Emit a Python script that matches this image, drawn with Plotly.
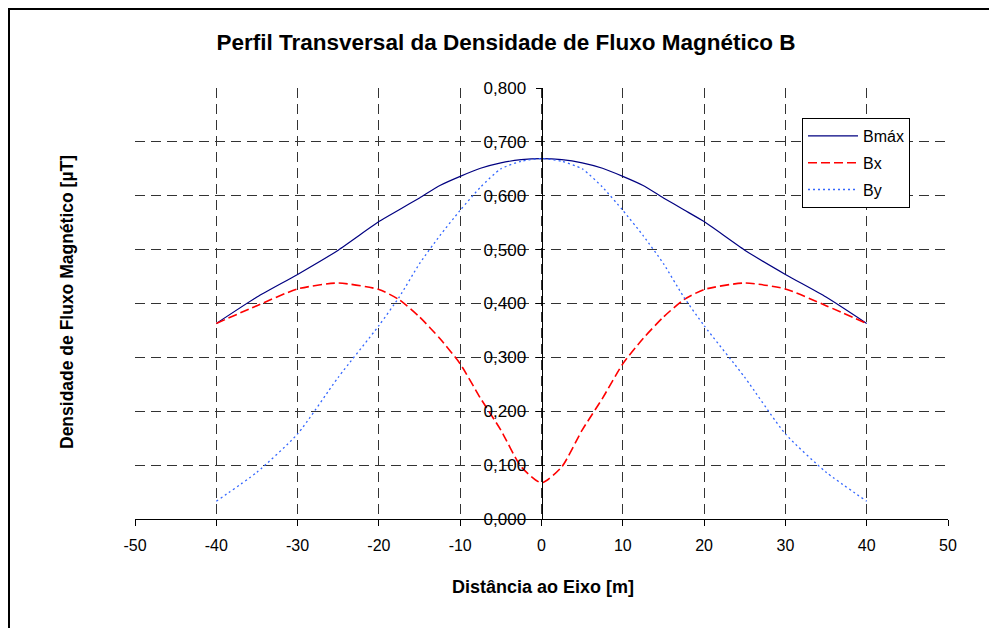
import plotly.graph_objects as go

# Distance from the axis [m]
distancia = [-40, -35, -30, -25, -20, -17.5, -15, -12.5, -10, -7.5, -5, -2.5, 0,
             2.5, 5, 7.5, 10, 12.5, 15, 17.5, 20, 25, 30, 35, 40]

# Magnetic flux density [µT]
b_max = [0.363, 0.412, 0.454, 0.499, 0.552, 0.574, 0.596, 0.619, 0.636, 0.651, 0.661, 0.667, 0.669,
         0.667, 0.661, 0.651, 0.636, 0.619, 0.596, 0.574, 0.552, 0.499, 0.454, 0.412, 0.363]
b_x = [0.363, 0.396, 0.427, 0.438, 0.426, 0.407, 0.375, 0.335, 0.288, 0.224, 0.165, 0.097, 0.067,
       0.097, 0.165, 0.224, 0.288, 0.335, 0.375, 0.407, 0.426, 0.438, 0.427, 0.396, 0.363]
b_y = [0.033, 0.087, 0.158, 0.263, 0.359, 0.412, 0.474, 0.526, 0.573, 0.616, 0.650, 0.664, 0.669,
       0.664, 0.650, 0.616, 0.573, 0.526, 0.474, 0.412, 0.359, 0.263, 0.158, 0.087, 0.033]

x_ticks = [-50, -40, -30, -20, -10, 0, 10, 20, 30, 40, 50]
y_ticks = [0.0, 0.1, 0.2, 0.3, 0.4, 0.5, 0.6, 0.7, 0.8]

FONT = "Liberation Sans, Arial, sans-serif"

fig = go.Figure()
fig.add_trace(go.Scatter(x=distancia, y=b_max, name="Bmáx", mode="lines", legendgroup="a",
                         line=dict(color="#000080", width=1.2, shape="spline", smoothing=0.6)))
fig.add_trace(go.Scatter(x=distancia, y=b_x, name="Bx", mode="lines", legendgroup="b",
                         line=dict(color="#FF0000", width=1.6, dash="9px,4px", shape="spline", smoothing=0.6)))
fig.add_trace(go.Scatter(x=distancia, y=b_y, name="By", mode="lines", legendgroup="c",
                         line=dict(color="#3366FF", width=1.3, dash="2px,3px", shape="spline", smoothing=0.6)))

# page body has an 8 px offset; lay out in page pixels
OFF = 8
W, H = 997 - OFF, 628 - OFF
L, R, T, B = 135 - OFF, 997 - 948, 88 - OFF, 628 - 519
pw = W - L - R
ph = H - T - B


def px(xp):
    return (xp - OFF - L) / pw


def py(yp):
    return (H - B - (yp - OFF)) / ph


GRID = "#333333"

fig.update_layout(
    width=W, height=H,
    margin=dict(l=L, r=R, t=T, b=B),
    paper_bgcolor="white", plot_bgcolor="white",
    separators=",.",
    font=dict(family=FONT, size=16, color="black"),
    title=dict(text="<b>Perfil Transversal da Densidade de Fluxo Magnético B</b>",
               x=px(506), xanchor="center", xref="paper",
               y=1 - (42 - OFF) / H, yanchor="middle", yref="container",
               font=dict(family=FONT, size=22.5, color="black")),
    xaxis=dict(range=[-50, 50], tickvals=x_ticks, ticktext=[str(v) for v in x_ticks],
               showgrid=True, gridcolor=GRID, griddash="10px,6px", gridwidth=1,
               zeroline=False, showline=True, linecolor="black", linewidth=1,
               ticks="outside", ticklen=6, tickcolor="black", ticklabelstandoff=6,
               tickfont=dict(size=16), fixedrange=True),
    yaxis=dict(range=[0, 0.8], tickvals=y_ticks, tickformat=".3f",
               showgrid=True, gridcolor=GRID, griddash="10px,6px", gridwidth=1,
               zeroline=False, showline=True, linecolor="black", linewidth=1,
               anchor="free", position=0.5, side="left",
               ticks="outside", ticklen=6, tickcolor="black", ticklabelstandoff=6,
               tickfont=dict(size=17), fixedrange=True),
    showlegend=True,
    legend=dict(x=px(802), y=py(118), xanchor="left", yanchor="top",
                bgcolor="white", bordercolor="black", borderwidth=1,
                font=dict(size=16), tracegroupgap=3, itemwidth=50),
    annotations=[
        dict(text="<b>Distância ao Eixo [m]</b>", xref="paper", yref="paper",
             x=px(543), y=py(587), xanchor="center", yanchor="middle", showarrow=False,
             font=dict(size=18)),
        dict(text="<b>Densidade de Fluxo Magnético [µT]</b>", xref="paper", yref="paper",
             x=px(67), y=py(302), xanchor="center", yanchor="middle", showarrow=False,
             textangle=-90, font=dict(size=17.5)),
    ],
    shapes=[
        dict(type="rect", xref="paper", yref="paper",
             x0=px(9), x1=px(1010), y0=py(640), y1=py(9),
             line=dict(color="black", width=2), fillcolor="rgba(0,0,0,0)", layer="below"),
    ],
)

fig.write_html("out.html")
